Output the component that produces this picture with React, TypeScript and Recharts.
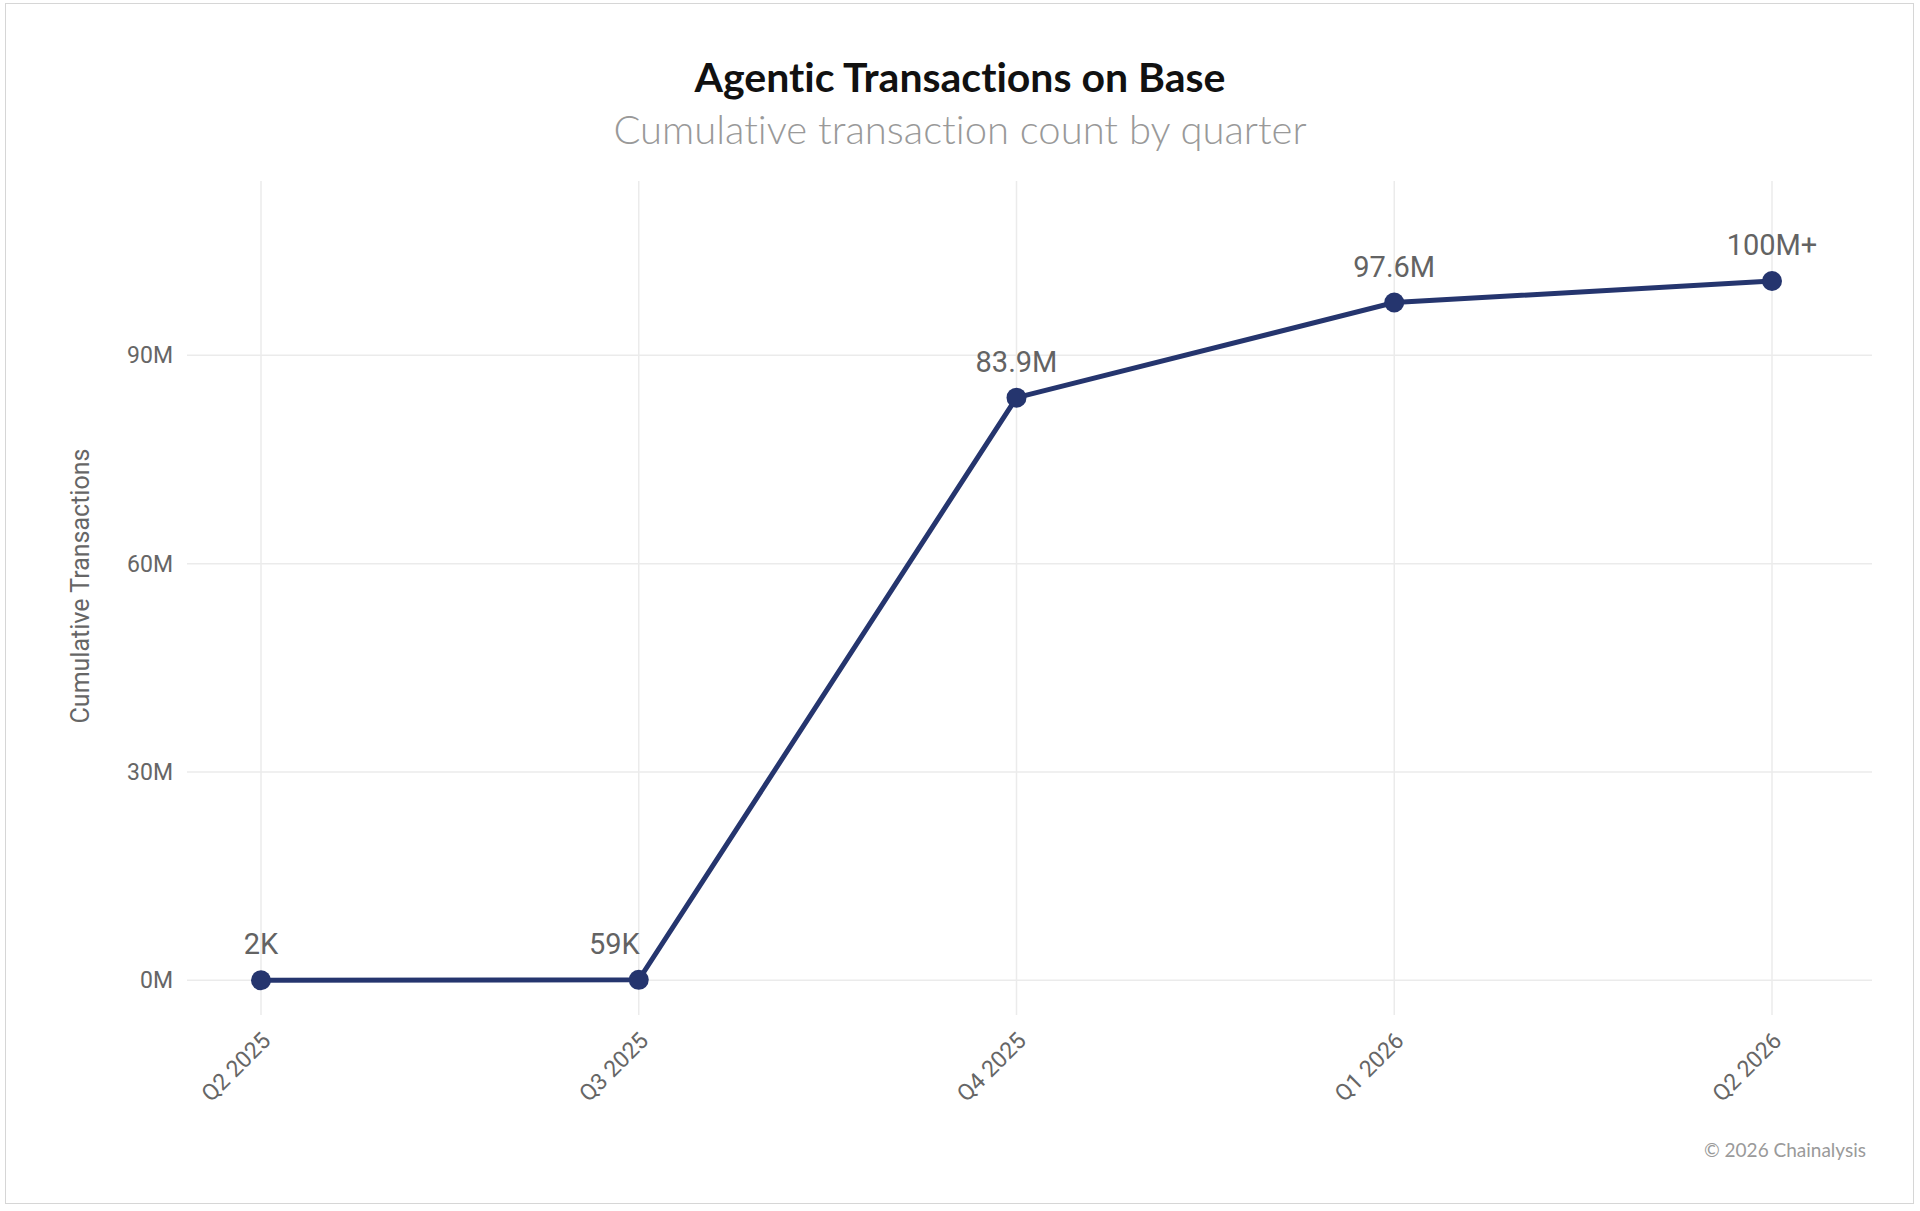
import React from "react";
import { LineChart, Line, XAxis, YAxis, CartesianGrid, LabelList, Label } from "recharts";

const quarters = ["Q2 2025", "Q3 2025", "Q4 2025", "Q1 2026", "Q2 2026"];
const cumulativeTx = [2000, 59000, 83900000, 97600000, 100700000];
const valueLabels = ["2K", "59K", "83.9M", "97.6M", "100M+"];
const yTicks = [0, 30000000, 60000000, 90000000];

const data = quarters.map((q, i) => ({ quarter: q, value: cumulativeTx[i], label: valueLabels[i] }));

const NAVY = "#25356e";
const GRID = "#ebebeb";
const TICK = "#666";

const QuarterTick = ({ x, y, payload }: any) => {
    const ax = x + 11;
    const ay = y + 27;
    return (
        <text x={ax} y={ay}
            transform={`rotate(-45 ${ax} ${ay})`}
            textAnchor="end"
            fill={TICK}
            fontSize={23}
            fontFamily="Roboto">
            {payload.value}
        </text>
    );
};

const ValueLabel = (props: any) => {
    const { x, y, value, index } = props;
    // the 59K label sits up-left of its point so it clears the rising line
    const left = index === 1;
    return (
        <text x={left ? x + 1 : x} y={y - 26}
            textAnchor={left ? "end" : "middle"}
            fill="#636363"
            fontSize={29}
            fontFamily="Roboto">
            {value}
        </text>
    );
};

const App = () => {
    return (
        <div style={{ position: "absolute", left: 0, top: 0, width: 1920, height: 1211, background: "#fff" }}>
            <div style={{ position: "absolute", left: 5, top: 3, width: 1909, height: 1201,
                border: "1.5px solid #d6d6d6", boxSizing: "border-box" }} />

            <div style={{ position: "absolute", left: 0, top: 56, width: 1920, textAlign: "center",
                fontFamily: "Lato", fontWeight: 700, fontSize: 41, lineHeight: "42px", color: "#111",
                fontVariantLigatures: "none" }}>
                Agentic Transactions on Base
            </div>
            <div style={{ position: "absolute", left: 0, top: 108, width: 1920, textAlign: "center",
                fontFamily: "Lato", fontWeight: 300, fontSize: 40, lineHeight: "42px", color: "#999",
                fontVariantLigatures: "none" }}>
                Cumulative transaction count by quarter
            </div>

            <div style={{ position: "absolute", left: 0, top: 0 }}>
                <LineChart width={1920} height={1211} data={data}
                    margin={{ top: 181, right: 48, left: 0, bottom: 0 }}>

                    <CartesianGrid stroke={GRID} strokeWidth={1.5} vertical={true} horizontal={true} syncWithTicks />

                    <XAxis dataKey="quarter"
                        height={196}
                        padding={{ left: 74, right: 100 }}
                        axisLine={false}
                        tickLine={false}
                        tickSize={0}
                        tickMargin={0}
                        interval={0}
                        tick={<QuarterTick />} />

                    <YAxis width={187}
                        domain={[-5000000, 115100000]}
                        ticks={yTicks}
                        allowDataOverflow
                        tickFormatter={(v: number) => `${v / 1000000}M`}
                        axisLine={false}
                        tickLine={false}
                        tickSize={0}
                        tickMargin={14}
                        tick={{ fontSize: 23, fill: TICK, fontFamily: "Roboto" }}>
                        <Label content={() => (
                            <text x={89} y={586} transform="rotate(-90 89 586)"
                                textAnchor="middle" fill={TICK} fontSize={25} fontFamily="Roboto">
                                Cumulative Transactions
                            </text>
                        )} />
                    </YAxis>

                    <Line type="linear"
                        dataKey="value"
                        stroke={NAVY}
                        strokeWidth={5}
                        dot={{ r: 10, fill: NAVY, stroke: NAVY, strokeWidth: 0 }}
                        activeDot={false}
                        isAnimationActive={false}>
                        <LabelList dataKey="label" content={<ValueLabel />} />
                    </Line>
                </LineChart>
            </div>

            <div style={{ position: "absolute", right: 54, top: 1139, fontFamily: "Lato", fontWeight: 400,
                fontSize: 19, lineHeight: "22px", color: "#9a9a9a" }}>
                © 2026 Chainalysis
            </div>
        </div>
    );
};

export default App;
